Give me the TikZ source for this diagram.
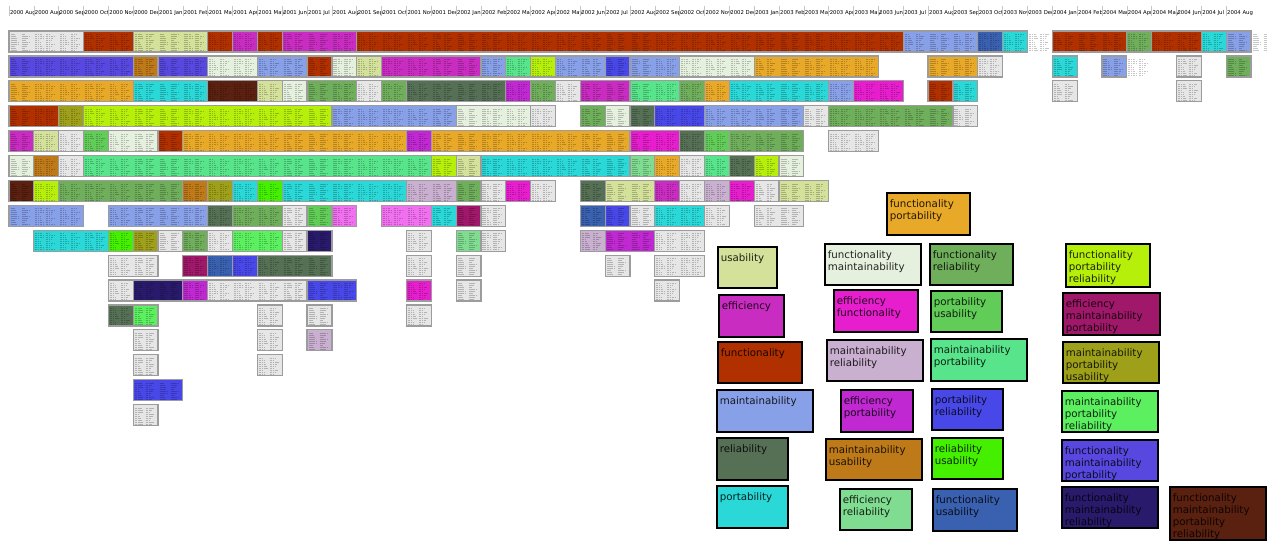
\documentclass[tikz,border=0pt]{standalone}
\usepackage{fontspec}
\setmainfont{DejaVu Sans}
\usepackage{tikz}
\usetikzlibrary{calc}

\definecolor{gy}{HTML}{E6E6E6}
\definecolor{fp}{HTML}{E8A828}
\definecolor{us}{HTML}{D3E19A}
\definecolor{fm}{HTML}{E6F0DE}
\definecolor{fr}{HTML}{6FAE5A}
\definecolor{fpr}{HTML}{B6F00A}
\definecolor{ef}{HTML}{C82CC0}
\definecolor{efu}{HTML}{E61ECE}
\definecolor{pu}{HTML}{62CC58}
\definecolor{emp}{HTML}{A0186A}
\definecolor{fu}{HTML}{B03000}
\definecolor{mr}{HTML}{CAB0D0}
\definecolor{mp}{HTML}{58E48A}
\definecolor{mpu}{HTML}{9EA01A}
\definecolor{ma}{HTML}{88A0E8}
\definecolor{ep}{HTML}{C028D2}
\definecolor{pr}{HTML}{4848E8}
\definecolor{mpr}{HTML}{5CF060}
\definecolor{re}{HTML}{557055}
\definecolor{mu}{HTML}{BE7A18}
\definecolor{ru}{HTML}{44F000}
\definecolor{fmp}{HTML}{5848E0}
\definecolor{po}{HTML}{2AD8D8}
\definecolor{er}{HTML}{80DC90}
\definecolor{fus}{HTML}{3A60B0}
\definecolor{fmr}{HTML}{2A1A6C}
\definecolor{fmpr}{HTML}{5A2010}
\definecolor{pk}{HTML}{F070F0}
\definecolor{cellline}{HTML}{9C9C9C}

\newcommand{\celltext}[2]{%
  \foreach \i in {0,...,8}{
    \pgfmathsetmacro{\la}{4+mod(\i*7+#2*3,6)}
    \pgfmathsetmacro{\lb}{3+mod(\i*5+#2,7)}
    \path[draw,txt] ({10.5+24.84*#2},{34.5+24.9*(#1-1)+2*\i}) -- ++(\la,0)
      ({21.5+24.84*#2},{34.5+24.9*(#1-1)+2*\i}) -- ++(\lb,0);}}
\newcommand{\cellrow}[2]{%
  \foreach \s/\e/\c in {#2}{
    \path[draw,cell,fill=\c] ({9+24.84*\s},{31+24.9*(#1-1)}) rectangle ({9+24.84*(\e+1)},{52+24.9*(#1-1)});
    \foreach \k in {\s,...,\e}{\celltext{#1}{\k}}}}
\newcommand{\legentry}[7]{%
  \node[legframe,fill=#2,minimum width={(#5-#3)*0.75pt},minimum height={(#6-#4)*0.75pt}] (#1) at (#3,#4) {};
  \node[legtext] (#1t) at ([shift={(2.5,6.5)}]#1.north west) {#7};}

\begin{document}
\begin{tikzpicture}[x=0.75pt,y=-0.75pt,>= latex,
    cell/.style={color=cellline,line width=0.9pt},
    txt/.style={black,opacity=0.22,line width=0.5pt,dash pattern=on 1.6pt off 0.5pt on 0.9pt off 0.5pt},
    mlabel/.style={font=\fontsize{4pt}{4.5pt}\selectfont,inner sep=0pt,anchor=base west},
    sep/.style={draw,gray!45,line width=0.4pt},
    legframe/.style={draw=black,line width=2pt,anchor=north west,inner sep=0pt,outer sep=0pt},
    legtext/.style={anchor=north west,inner sep=0pt,align=left,text opacity=0.85,
      font=\fontsize{7.7pt}{9pt}\selectfont}]
  \useasboundingbox (0,0) rectangle (1267,544);

  % month axis
  \foreach \k/\lab in {0/2000 Aug,1/2000 Aug,2/2000 Sep,3/2000 Oct,4/2000 Nov,5/2000 Dec,
      6/2001 Jan,7/2001 Feb,8/2001 Mar,9/2001 Apr,10/2001 May,11/2001 Jun,12/2001 Jul,13/2001 Aug,
      14/2001 Sep,15/2001 Oct,16/2001 Nov,17/2001 Dec,18/2002 Jan,19/2002 Feb,20/2002 Mar,
      21/2002 Apr,22/2002 May,23/2002 Jun,24/2002 Jul,25/2002 Aug,26/2002 Sep,27/2002 Oct,
      28/2002 Nov,29/2002 Dec,30/2003 Jan,31/2003 Feb,32/2003 Mar,33/2003 Apr,34/2003 May,
      35/2003 Jun,36/2003 Jul,37/2003 Aug,38/2003 Sep,39/2003 Oct,40/2003 Nov,41/2003 Dec,
      42/2004 Jan,43/2004 Feb,44/2004 Mar,45/2004 Apr,46/2004 May,47/2004 Jun,48/2004 Jul,
      49/2004 Aug}{
    \path[sep] ({9+24.84*\k},6) -- ++(0,10);
    \node[mlabel] (m\k) at ({9.8+24.84*\k},14) {\lab};
  }

  % changes per month, one row per level
  \cellrow{1}{0/2/gy,3/4/fu,5/7/us,8/8/fu,9/9/ef,10/10/fu,11/13/ef,14/35/fu,36/38/ma,39/39/fus,
    40/40/po,42/44/fu,45/45/fr,46/47/fu,48/48/po,49/49/ma}
  \celltext{1}{41}\celltext{1}{50}
  \cellrow{2}{0/4/fmp,5/5/mu,6/7/fmp,8/9/fm,10/11/ma,12/12/fu,13/13/fm,14/14/us,15/18/ef,19/19/ma,
    20/20/mp,21/21/fpr,22/23/ma,24/24/pr,25/26/ma,27/29/fm,30/34/fp,37/38/fp,39/39/gy,42/42/po,
    44/44/ma,47/47/gy,49/49/fr}
  \celltext{2}{45}
  \cellrow{3}{0/4/fp,5/7/po,8/9/fmpr,10/10/us,11/11/fm,12/13/fr,14/14/gy,15/15/fr,16/19/re,20/20/ep,
    21/21/fr,22/22/gy,23/24/ef,25/26/mp,27/27/fr,28/28/fp,29/32/po,33/33/ma,34/35/efu,37/37/fu,
    38/38/po,42/42/gy,47/47/gy}
  \cellrow{4}{0/1/fu,2/2/mpu,3/12/fpr,13/17/ma,18/20/fm,21/21/gy,23/23/fr,24/24/fm,25/25/re,26/27/pr,
    28/31/ma,32/32/gy,33/37/fr,38/38/gy}
  \cellrow{5}{0/0/ef,1/1/us,2/2/gy,3/3/pu,4/5/fm,6/6/fu,7/15/fp,16/16/ep,17/24/fp,25/26/efu,27/27/re,
    28/28/pu,29/31/fr,33/34/gy}
  \cellrow{6}{0/0/fm,1/1/mu,2/2/gy,3/16/mp,17/17/fpr,18/18/us,19/24/po,25/25/er,26/26/fp,27/27/gy,
    28/28/mp,29/29/re,30/30/fpr,31/31/fm}
  \cellrow{7}{0/0/fmpr,1/1/fpr,2/6/fr,7/7/mu,8/8/mpu,9/9/po,10/10/ru,11/15/po,16/17/mr,18/18/fr,
    19/19/gy,20/20/efu,21/21/gy,23/23/re,24/25/us,26/26/ef,27/27/gy,28/28/mr,29/29/efu,30/30/gy,
    31/32/us}
  \cellrow{8}{0/2/ma,4/7/ma,8/8/re,9/10/fr,11/11/gy,12/12/pu,13/13/pk,15/16/pk,17/17/po,18/18/emp,
    19/19/gy,23/23/fus,24/24/pr,25/25/gy,26/27/po,28/28/gy,30/31/gy}
  \cellrow{9}{1/3/po,4/4/ru,5/5/mpu,6/6/gy,7/7/fr,8/8/gy,9/10/mpr,11/11/gy,12/12/fmr,16/16/gy,
    18/18/er,19/19/gy,23/23/mr,24/25/ep,26/27/gy}
  \cellrow{10}{4/5/gy,7/7/emp,8/8/fus,9/9/pr,10/12/re,16/16/gy,18/18/gy,24/24/gy,26/27/gy}
  \cellrow{11}{4/4/gy,5/6/fmr,7/7/ep,8/11/gy,12/13/pr,16/16/efu,18/18/gy,26/26/gy}
  \cellrow{12}{4/4/re,5/5/mpr,10/10/gy,12/12/gy,16/16/gy}
  \cellrow{13}{5/5/gy,10/10/gy,12/12/mr}
  \cellrow{14}{5/5/gy,10/10/gy}
  \cellrow{15}{5/6/pr}
  \cellrow{16}{5/5/gy}

  % legend
  \legentry{lfp}{fp}{887}{193}{970}{235}{functionality\\portability}
  \legentry{lus}{us}{718}{247}{777}{288}{usability}
  \legentry{lfm}{fm}{825}{244}{921}{285}{functionality\\maintainability}
  \legentry{lfr}{fr}{930}{244}{1013}{285}{functionality\\reliability}
  \legentry{lfpr}{fpr}{1066}{244}{1150}{287}{functionality\\portability\\reliability}
  \legentry{lef}{ef}{719}{295}{784}{337}{efficiency}
  \legentry{lefu}{efu}{834}{290}{918}{332}{efficiency\\functionality}
  \legentry{lpu}{pu}{931}{291}{1002}{332}{portability\\usability}
  \legentry{lemp}{emp}{1063}{293}{1160}{335}{efficiency\\maintainability\\portability}
  \legentry{lfu}{fu}{718}{342}{802}{383}{functionality}
  \legentry{lmr}{mr}{827}{340}{923}{381}{maintainability\\reliability}
  \legentry{lmp}{mp}{931}{339}{1027}{381}{maintainability\\portability}
  \legentry{lmpu}{mpu}{1063}{342}{1159}{383}{maintainability\\portability\\usability}
  \legentry{lma}{ma}{717}{390}{813}{432}{maintainability}
  \legentry{lep}{ep}{841}{390}{913}{432}{efficiency\\portability}
  \legentry{lpr}{pr}{932}{389}{1003}{430}{portability\\reliability}
  \legentry{lmpr}{mpr}{1062}{391}{1158}{432}{maintainability\\portability\\reliability}
  \legentry{lre}{re}{717}{438}{788}{480}{reliability}
  \legentry{lmu}{mu}{826}{439}{922}{480}{maintainability\\usability}
  \legentry{lru}{ru}{932}{438}{1003}{479}{reliability\\usability}
  \legentry{lfmp}{fmp}{1062}{440}{1158}{481}{functionality\\maintainability\\portability}
  \legentry{lpo}{po}{717}{486}{788}{528}{portability}
  \legentry{ler}{er}{840}{489}{912}{530}{efficiency\\reliability}
  \legentry{lfus}{fus}{933}{489}{1017}{531}{functionality\\usability}
  \legentry{lfmr}{fmr}{1062}{487}{1158}{528}{functionality\\maintainability\\reliability}
  \legentry{lfmpr}{fmpr}{1170}{487}{1266}{540}{functionality\\maintainability\\portability\\reliability}
\end{tikzpicture}
\end{document}
